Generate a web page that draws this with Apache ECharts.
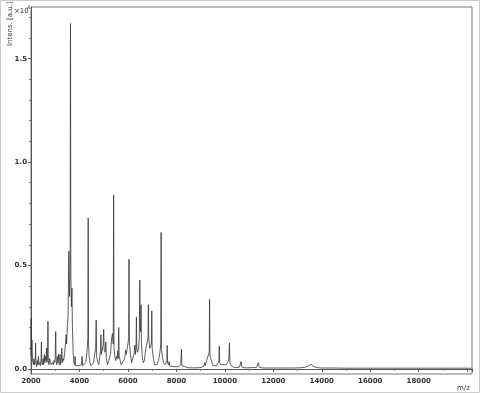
<!DOCTYPE html>
<html>
<head>
<meta charset="utf-8">
<script src="https://cdn.jsdelivr.net/npm/echarts@6/dist/echarts.min.js"></script>
<style>
html,body{margin:0;padding:0;background:#fff;}
#chart{width:480px;height:393px;}
</style>
</head>
<body>
<div id="chart"></div>
<script>
// m/z positions and intensities (x10^4 a.u.)
const mzValues = [
 2000,2008,2020,2040,2060,2080,2100,2120,2150,2175,2190,2205,2230,2260,2280,2310,2330,2360,2390,2415,
 2430,2445,2470,2500,2520,2550,2570,2600,2625,2640,2655,2680,2700,2715,2740,2770,2800,2830,2860,2890,
 2920,2950,2980,3000,3020,3035,3060,3090,3110,3140,3160,3190,3200,3215,3250,3270,3290,3320,3350,3390,
 3420,3450,3470,3500,3530,3560,3590,3615,3630,3645,3670,3690,3710,3740,3770,3800,3820,3840,3900,3960,
 4020,4080,4110,4130,4200,4260,4310,4345,4360,4375,4400,4430,4480,4530,4580,4630,4670,4690,4710,4760,
 4800,4840,4870,4885,4905,4940,4980,5000,5020,5060,5090,5110,5160,5220,5280,5330,5360,5395,5410,5425,
 5460,5500,5530,5560,5575,5595,5620,5640,5680,5720,5780,5830,5880,5905,5930,5970,6000,6030,6045,6060,
 6100,6150,6200,6250,6290,6310,6335,6350,6365,6400,6440,6470,6490,6505,6525,6540,6560,6600,6640,6680,
 6720,6760,6800,6830,6845,6860,6900,6940,6970,6985,7000,7050,7100,7150,7200,7260,7320,7355,7370,7385,
 7420,7470,7530,7580,7610,7620,7635,7670,7700,7720,7800,7900,8000,8100,8180,8210,8230,8300,8500,8700,
 8900,9050,9140,9165,9190,9250,9300,9355,9370,9385,9420,9470,9520,9580,9650,9720,9755,9770,9785,9830,
 9900,9960,10000,10060,10110,10160,10190,10210,10260,10350,10450,10600,10650,10670,10690,10800,10950,11100,11140,11170,
 11300,11370,11390,11410,11500,11700,12000,12400,12800,13100,13300,13450,13555,13650,13800,14000,14500,15000,15600,16200,
 16800,17400,18000,18600,19200,19800,20180
];
const intensityValues = [
 0.06,0.245,0.09,0.14,0.05,0.03,0.02,0.05,0.02,0.04,0.125,0.03,0.01,0.04,0.02,0.06,0.02,0.03,0.015,0.05,
 0.13,0.03,0.02,0.05,0.02,0.07,0.03,0.06,0.04,0.10,0.03,0.06,0.23,0.04,0.02,0.05,0.03,0.02,0.015,0.03,
 0.02,0.04,0.03,0.06,0.18,0.04,0.02,0.06,0.03,0.07,0.02,0.03,0.07,0.02,0.04,0.10,0.03,0.05,0.04,0.08,
 0.12,0.165,0.12,0.205,0.25,0.57,0.35,0.5,1.67,0.45,0.3,0.39,0.2,0.08,0.03,0.02,0.06,0.015,0.01,0.015,
 0.02,0.02,0.06,0.015,0.02,0.03,0.08,0.15,0.73,0.12,0.06,0.03,0.015,0.015,0.03,0.07,0.1,0.235,0.06,0.03,
 0.02,0.06,0.09,0.165,0.07,0.09,0.12,0.19,0.09,0.08,0.13,0.05,0.02,0.025,0.07,0.15,0.17,0.12,0.84,0.1,
 0.06,0.04,0.06,0.05,0.085,0.05,0.20,0.06,0.04,0.02,0.015,0.04,0.06,0.09,0.07,0.1,0.12,0.15,0.53,0.13,
 0.07,0.03,0.03,0.07,0.115,0.07,0.1,0.25,0.1,0.08,0.1,0.15,0.43,0.2,0.18,0.31,0.12,0.05,0.03,0.04,
 0.08,0.11,0.13,0.15,0.31,0.15,0.1,0.1,0.12,0.28,0.1,0.05,0.02,0.015,0.02,0.04,0.08,0.12,0.66,0.1,
 0.06,0.03,0.02,0.03,0.04,0.113,0.03,0.02,0.035,0.015,0.01,0.01,0.01,0.01,0.02,0.095,0.015,0.008,0.005,0.005,
 0.005,0.008,0.015,0.03,0.015,0.04,0.06,0.08,0.335,0.06,0.05,0.03,0.015,0.01,0.015,0.03,0.04,0.11,0.03,0.02,
 0.015,0.02,0.015,0.02,0.03,0.04,0.125,0.03,0.015,0.008,0.006,0.008,0.015,0.035,0.01,0.005,0.005,0.006,0.015,0.006,
 0.006,0.015,0.03,0.01,0.005,0.004,0.004,0.004,0.004,0.005,0.007,0.014,0.022,0.012,0.006,0.004,0.004,0.003,0.003,0.003,
 0.003,0.003,0.003,0.003,0.003,0.003,0.003
];
const yMajorTicks = [0, 0.5, 1.0, 1.5];
const yMinorTicks = [0.1,0.2,0.3,0.4,0.6,0.7,0.8,0.9,1.1,1.2,1.3,1.4,1.6,1.7];
const xMin = 2000, xMax = 20200, xStep = 2000;
const yMin = -0.025, yMax = 1.75;

const data = mzValues.map((m, i) => [m, intensityValues[i]]);
const FONT = 'DejaVu Sans';
const chart = echarts.init(document.getElementById('chart'), null, {renderer: 'canvas'});
chart.setOption({
  animation: false,
  backgroundColor: '#fff',
  grid: {left: 31, top: 7, right: 8, bottom: 19, show: true, borderColor: '#777', borderWidth: 1, backgroundColor: 'transparent'},
  xAxis: {
    type: 'value', min: xMin, max: xMax, interval: xStep,
    axisLine: {show: true, lineStyle: {color: '#555', width: 1}},
    axisTick: {show: true, length: 3, lineStyle: {color: '#555'}},
    minorTick: {show: true, splitNumber: 2, length: 2, lineStyle: {color: '#777'}},
    splitLine: {show: false},
    axisLabel: {fontFamily: FONT, fontSize: 7, fontWeight: 'bold', color: '#333', margin: 4,
      formatter: v => (v >= 20000 ? '' : String(v)), showMaxLabel: false}
  },
  yAxis: [{
    type: 'value', min: yMin, max: yMax,
    axisLine: {show: true, lineStyle: {color: '#555', width: 1}},
    axisTick: {show: true, length: 3, customValues: yMajorTicks, lineStyle: {color: '#555'}},
    splitLine: {show: false},
    axisLabel: {customValues: yMajorTicks, fontFamily: FONT, fontSize: 7, fontWeight: 'bold', color: '#333', margin: 4,
      formatter: v => v.toFixed(1)}
  }, {
    type: 'value', min: yMin, max: yMax, position: 'left', offset: 0,
    axisLine: {show: false},
    axisTick: {show: true, length: 2, customValues: yMinorTicks, lineStyle: {color: '#777'}},
    splitLine: {show: false},
    axisLabel: {show: false}
  }],
  series: [{
    type: 'line', data: data, showSymbol: false, symbol: 'none',
    lineStyle: {color: '#333', width: 0.8}, silent: true
  }],
  graphic: [
    {type: 'rect', shape: {x: 0.5, y: 0.5, width: 479, height: 392}, style: {fill: 'none', stroke: '#ccc', lineWidth: 1}, silent: true},
    {type: 'text', x: 10, y: 46, rotation: Math.PI / 2, style: {text: 'Intens. [a.u.]', fontFamily: FONT, fontSize: 7, fill: '#333', align: 'left', verticalAlign: 'middle'}},
    {type: 'text', left: 14, top: 8, style: {text: '×10', fontFamily: FONT, fontSize: 7, fill: '#333'}},
    {type: 'text', left: 27, top: 5, style: {text: '4', fontFamily: FONT, fontSize: 5, fill: '#333'}},
    {type: 'text', left: 457, top: 385, style: {text: 'm/z', fontFamily: FONT, fontSize: 7, fill: '#333'}}
  ]
});
</script>
</body>
</html>
